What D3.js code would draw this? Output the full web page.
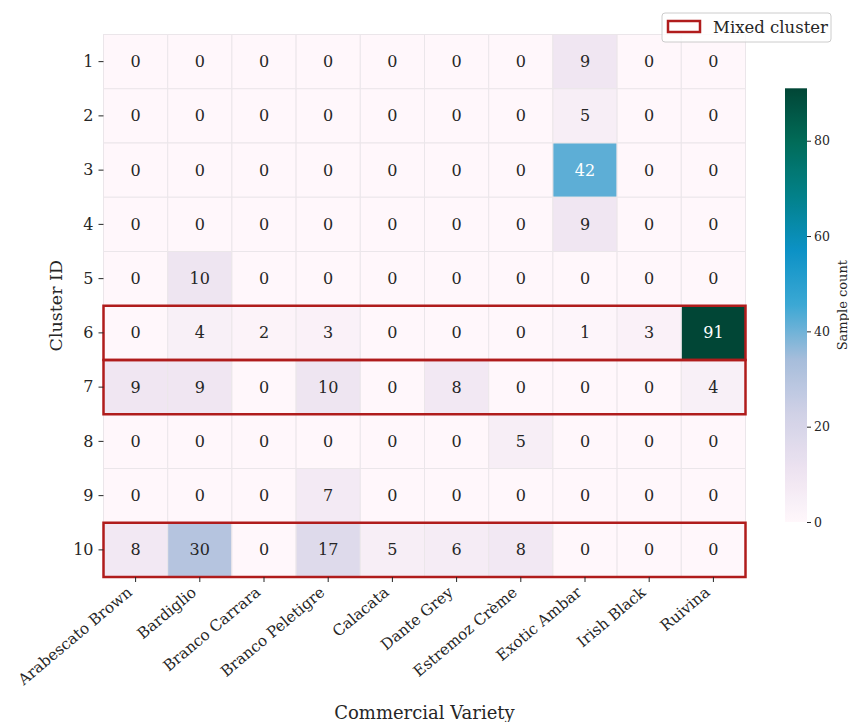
<!DOCTYPE html>
<html>
<head>
<meta charset="utf-8">
<script src="https://cdn.jsdelivr.net/npm/d3@7"></script>
<style>
  html, body { margin: 0; padding: 0; background: #fff; }
  svg { display: block; font-family: "DejaVu Serif", serif; }
</style>
</head>
<body>
<svg id="chart" width="849" height="722"></svg>
<script>
// Commercial varieties (columns) and cluster IDs (rows)
const varieties = ["Arabescato Brown", "Bardiglio", "Branco Carrara", "Branco Peletigre",
  "Calacata", "Dante Grey", "Estremoz Crème", "Exotic Ambar", "Irish Black", "Ruivina"];
const clusters = ["1", "2", "3", "4", "5", "6", "7", "8", "9", "10"];

// Sample counts per cluster, one array per row
const counts = [
  [0, 0, 0, 0, 0, 0, 0, 9, 0, 0],
  [0, 0, 0, 0, 0, 0, 0, 5, 0, 0],
  [0, 0, 0, 0, 0, 0, 0, 42, 0, 0],
  [0, 0, 0, 0, 0, 0, 0, 9, 0, 0],
  [0, 10, 0, 0, 0, 0, 0, 0, 0, 0],
  [0, 4, 2, 3, 0, 0, 0, 1, 3, 91],
  [9, 9, 0, 10, 0, 8, 0, 0, 0, 4],
  [0, 0, 0, 0, 0, 0, 5, 0, 0, 0],
  [0, 0, 0, 7, 0, 0, 0, 0, 0, 0],
  [8, 30, 0, 17, 5, 6, 8, 0, 0, 0]
];

// Clusters that mix several varieties
const mixedClusters = ["6", "7", "10"];

const colorbarTicks = [0, 20, 40, 60, 80];

// Purple-blue-green colour ramp, evenly spaced stops
const rampColors = ["#fff7fb", "#ece2f0", "#d0d1e6", "#a6bddb", "#3ca8d4",
  "#0c92c6", "#02818a", "#016c59", "#014636"];

const svg = d3.select("#chart");
const gLeft = 103.5, gTop = 34.5, gRight = 745.5, gBottom = 577;

const x = d3.scaleBand().domain(varieties).range([gLeft, gRight]);
const y = d3.scaleBand().domain(clusters).range([gTop, gBottom]);
const vmax = d3.max(counts.flat());
const ramp = d3.scaleLinear()
  .domain(rampColors.map((_, i) => i / (rampColors.length - 1)))
  .range(rampColors).interpolate(d3.interpolateRgb).clamp(true);
const color = v => ramp(v / vmax);

const cells = [];
counts.forEach((row, i) => row.forEach((v, j) => cells.push({ r: clusters[i], c: varieties[j], v })));

// Heatmap cells
svg.append("g").selectAll("rect").data(cells).join("rect")
  .attr("x", d => x(d.c)).attr("y", d => y(d.r))
  .attr("width", x.bandwidth()).attr("height", y.bandwidth())
  .attr("fill", d => color(d.v))
  .attr("stroke", "#ebe6ea").attr("stroke-width", 1);

// Annotation text colour depends on cell luminance
function lum(c) {
  const rgb = d3.rgb(c);
  const f = u => { u /= 255; return u <= 0.03928 ? u / 12.92 : Math.pow((u + 0.055) / 1.055, 2.4); };
  return 0.2126 * f(rgb.r) + 0.7152 * f(rgb.g) + 0.0722 * f(rgb.b);
}
svg.append("g").selectAll("text").data(cells).join("text")
  .attr("x", d => x(d.c) + x.bandwidth() / 2)
  .attr("y", d => y(d.r) + y.bandwidth() / 2)
  .attr("text-anchor", "middle").attr("dominant-baseline", "central")
  .attr("font-size", 16)
  .attr("fill", d => lum(color(d.v)) < 0.408 ? "#ffffff" : "#262626")
  .text(d => d.v);

// Mixed-cluster outlines
svg.append("g").selectAll("rect").data(mixedClusters).join("rect")
  .attr("x", gLeft).attr("y", d => y(d))
  .attr("width", gRight - gLeft).attr("height", y.bandwidth())
  .attr("fill", "none").attr("stroke", "#b01c1c").attr("stroke-width", 2.5);

// Axes
const yAxis = svg.append("g").attr("transform", `translate(${gLeft},0)`)
  .call(d3.axisLeft(y).tickSize(5).tickPadding(5));
yAxis.select(".domain").remove();
yAxis.selectAll("text").attr("font-size", 16).attr("fill", "#262626").attr("font-family", "DejaVu Serif");
yAxis.selectAll("line").attr("stroke", "#262626");

const xAxis = svg.append("g").attr("transform", `translate(0,${gBottom})`)
  .call(d3.axisBottom(x).tickSize(5).tickPadding(3));
xAxis.select(".domain").remove();
xAxis.selectAll("line").attr("stroke", "#262626");
xAxis.selectAll("text")
  .attr("font-size", 15.3).attr("fill", "#262626").attr("font-family", "DejaVu Serif")
  .attr("text-anchor", "end")
  .attr("dy", null).attr("y", null)
  .attr("transform", "translate(-2.5,17) rotate(-40)");

// Axis titles
svg.append("text").attr("x", (gLeft + gRight) / 2).attr("y", 719)
  .attr("text-anchor", "middle").attr("font-size", 18).attr("fill", "#262626")
  .text("Commercial Variety");
svg.append("text").attr("transform", `translate(62,${(gTop + gBottom) / 2}) rotate(-90)`)
  .attr("text-anchor", "middle").attr("font-size", 17.5).attr("fill", "#262626")
  .text("Cluster ID");

// Colour bar
const cbX = 785, cbW = 22, cbTop = 88.3, cbBottom = 522;
const cbScale = d3.scaleLinear().domain([0, vmax]).range([cbBottom, cbTop]);
const defs = svg.append("defs");
const grad = defs.append("linearGradient").attr("id", "cbgrad")
  .attr("x1", 0).attr("y1", 1).attr("x2", 0).attr("y2", 0);
d3.range(0, 1.0001, 0.0125).forEach(t => {
  grad.append("stop").attr("offset", t).attr("stop-color", ramp(t));
});
svg.append("rect").attr("x", cbX).attr("y", cbTop).attr("width", cbW)
  .attr("height", cbBottom - cbTop).attr("fill", "url(#cbgrad)");
const cbAxis = svg.append("g").attr("transform", `translate(${cbX + cbW},0)`)
  .call(d3.axisRight(cbScale).tickValues(colorbarTicks).tickSize(4).tickPadding(3));
cbAxis.select(".domain").remove();
cbAxis.selectAll("line").attr("stroke", "#262626");
cbAxis.selectAll("text").attr("font-size", 12.5).attr("fill", "#262626").attr("font-family", "DejaVu Serif");
svg.append("text").attr("transform", `translate(847,${(cbTop + cbBottom) / 2}) rotate(-90)`)
  .attr("text-anchor", "middle").attr("font-size", 13).attr("fill", "#262626")
  .text("Sample count");

// Legend
const lg = svg.append("g");
lg.append("rect").attr("x", 662).attr("y", 13).attr("width", 169).attr("height", 29)
  .attr("rx", 3).attr("fill", "#fff").attr("fill-opacity", 0.8).attr("stroke", "#cccccc");
lg.append("rect").attr("x", 668).attr("y", 21).attr("width", 32).attr("height", 11)
  .attr("fill", "none").attr("stroke", "#b01c1c").attr("stroke-width", 2.5);
lg.append("text").attr("x", 713).attr("y", 33).attr("font-size", 16.5).attr("fill", "#262626")
  .text("Mixed cluster");
</script>
</body>
</html>
